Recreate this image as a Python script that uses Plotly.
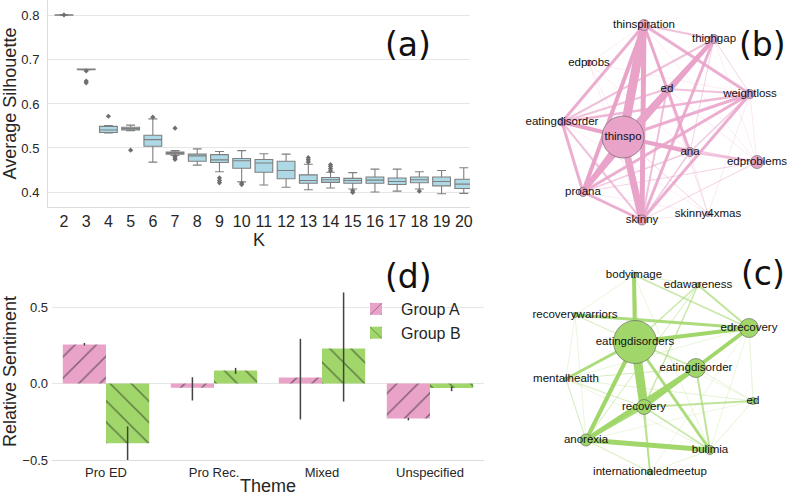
import plotly.graph_objects as go

# ---------------- data ----------------
# (a) silhouette box statistics per K
K = [str(k) for k in range(2, 21)]
q1 =     [0.8015, 0.6775, 0.535, 0.541, 0.504, 0.486, 0.470, 0.467, 0.454, 0.445, 0.430, 0.420, 0.422, 0.420, 0.420, 0.417, 0.421, 0.414, 0.408]
median = [0.802, 0.678, 0.541, 0.544, 0.519, 0.488, 0.482, 0.473, 0.471, 0.466, 0.449, 0.426, 0.428, 0.426, 0.427, 0.424, 0.428, 0.424, 0.418]
q3 =     [0.8025, 0.679, 0.549, 0.547, 0.529, 0.491, 0.486, 0.485, 0.476, 0.474, 0.470, 0.439, 0.433, 0.431, 0.434, 0.432, 0.434, 0.434, 0.429]
lowf =   [0.801, 0.677, 0.534, 0.539, 0.468, 0.483, 0.461, 0.446, 0.423, 0.416, 0.411, 0.405, 0.409, 0.407, 0.400, 0.402, 0.407, 0.396, 0.397]
upf =    [0.803, 0.679, 0.551, 0.552, 0.566, 0.494, 0.498, 0.492, 0.494, 0.487, 0.486, 0.463, 0.445, 0.444, 0.452, 0.452, 0.446, 0.449, 0.455]
outlier_k = ["2", "3", "3", "3", "4", "5", "6", "7", "7", "7", "7", "9", "9", "9", "10", "10",
             "13", "13", "13", "14", "14", "14", "14", "15", "15", "18"]
outlier_v = [0.802, 0.675, 0.652, 0.648, 0.572, 0.495, 0.570, 0.545, 0.480, 0.477, 0.474, 0.432, 0.426, 0.421, 0.420, 0.417,
             0.478, 0.473, 0.468, 0.462, 0.458, 0.453, 0.448, 0.403, 0.399, 0.402]

# (d) relative sentiment
themes = ["Pro ED", "Pro Rec.", "Mixed", "Unspecified"]
grpA = [0.255, -0.028, 0.039, -0.229]
grpA_up = [0.010, 0.069, 0.253, 0.005]
grpA_dn = [0.006, 0.083, 0.274, 0.012]
grpB = [-0.390, 0.085, 0.229, -0.030]
grpB_up = [0.110, 0.017, 0.366, 0.010]
grpB_dn = [0.130, 0.022, 0.347, 0.020]
sent_ticks = [-0.5, 0.0, 0.5]
sent_ticktext = ["\u22120.5", "0.0", "0.5"]

# (b) network of group A hashtags (layout coordinates)
b_nodes = ["thinspiration", "thighgap", "edprobs", "ed", "weightloss", "eatingdisorder",
           "thinspo", "ana", "edproblems", "proana", "skinny", "skinny4xmas"]
b_x = [104, 174, 49, 127, 210, 22, 83, 150, 217, 43, 102, 168]
b_y = [225, 211, 187, 161, 156, 128, 113, 98, 88, 58, 30, 36]
b_size = [11, 9, 6, 7, 9, 8, 42, 9, 13, 9, 10, 5]
b_edges = [
    ("thinspo", "thinspiration", 9), ("thinspo", "skinny", 7), ("thinspiration", "skinny", 5),
    ("thinspo", "proana", 5), ("thinspo", "eatingdisorder", 4), ("thinspo", "thighgap", 4),
    ("thinspo", "weightloss", 3), ("thinspo", "ana", 4), ("thinspo", "ed", 3),
    ("thinspo", "edproblems", 1.5), ("thinspo", "edprobs", 0.5), ("thinspo", "skinny4xmas", 1),
    ("thinspiration", "proana", 4), ("thinspiration", "eatingdisorder", 3), ("thinspiration", "weightloss", 3),
    ("thinspiration", "thighgap", 2), ("thinspiration", "ana", 3), ("thinspiration", "ed", 2),
    ("thinspiration", "edproblems", 0.5), ("thinspiration", "edprobs", 0.5), ("thinspiration", "skinny4xmas", 0.6),
    ("thighgap", "proana", 4), ("thighgap", "skinny", 3), ("thighgap", "eatingdisorder", 2),
    ("thighgap", "ed", 2), ("thighgap", "weightloss", 1), ("thighgap", "ana", 1), ("thighgap", "edproblems", 0.5),
    ("weightloss", "skinny", 3), ("weightloss", "proana", 3), ("weightloss", "eatingdisorder", 2.5),
    ("weightloss", "ed", 2), ("weightloss", "ana", 1.5), ("weightloss", "edproblems", 0.6),
    ("weightloss", "skinny4xmas", 0.6), ("weightloss", "edprobs", 0.5),
    ("ed", "proana", 3), ("ed", "skinny", 2), ("ed", "eatingdisorder", 2), ("ed", "ana", 1),
    ("eatingdisorder", "proana", 3), ("eatingdisorder", "skinny", 2), ("eatingdisorder", "ana", 1),
    ("eatingdisorder", "skinny4xmas", 0.5), ("proana", "skinny", 3), ("proana", "ana", 1.5),
    ("proana", "edproblems", 1), ("proana", "skinny4xmas", 0.5), ("ana", "edproblems", 2),
    ("ana", "skinny", 1.5), ("ana", "skinny4xmas", 0.6), ("skinny", "edproblems", 1),
    ("skinny", "skinny4xmas", 0.6), ("edprobs", "ana", 0.5), ("edprobs", "skinny", 0.5),
    ("ed", "skinny4xmas", 0.5), ("ed", "edproblems", 0.6),
]

# (c) network of group B hashtags (layout coordinates)
c_nodes = ["bodyimage", "edawareness", "recoverywarriors", "edrecovery", "eatingdisorders", "eatingdisorder",
           "mentalhealth", "ed", "recovery", "anorexia", "bulimia", "internationaledmeetup"]
c_x = [94, 158, 35, 209, 95, 156, 26, 213, 104, 46, 170, 110]
c_y = [225, 215, 185, 172, 158, 132, 121, 99, 93, 60, 50, 28]
c_size = [6, 5, 5, 19, 43, 19, 4, 7, 15, 12, 9, 6]
c_edges = [
    ("eatingdisorders", "recovery", 9), ("eatingdisorders", "anorexia", 4), ("eatingdisorders", "bodyimage", 4),
    ("eatingdisorders", "edrecovery", 4), ("recoverywarriors", "edrecovery", 3), ("eatingdisorders", "mentalhealth", 3),
    ("eatingdisorders", "bulimia", 3), ("eatingdisorders", "eatingdisorder", 1.5), ("eatingdisorders", "recoverywarriors", 1),
    ("eatingdisorders", "edawareness", 1.5), ("eatingdisorders", "ed", 0.5), ("eatingdisorders", "internationaledmeetup", 1),
    ("anorexia", "eatingdisorder", 5), ("recovery", "edrecovery", 4), ("recovery", "eatingdisorder", 3),
    ("anorexia", "bulimia", 5), ("anorexia", "recovery", 3), ("anorexia", "mentalhealth", 1),
    ("recovery", "ed", 2), ("recovery", "internationaledmeetup", 2), ("recovery", "bulimia", 1.5),
    ("recovery", "bodyimage", 1), ("eatingdisorder", "bulimia", 2), ("edrecovery", "edawareness", 2),
    ("edrecovery", "bodyimage", 1.5), ("edrecovery", "ed", 0.7), ("bodyimage", "edawareness", 0.8),
    ("edawareness", "recovery", 1.5), ("edawareness", "anorexia", 1), ("mentalhealth", "bulimia", 0.6),
    ("anorexia", "internationaledmeetup", 1), ("mentalhealth", "eatingdisorder", 1), ("mentalhealth", "recovery", 1),
    ("ed", "eatingdisorder", 0.7), ("ed", "bulimia", 0.7), ("bulimia", "internationaledmeetup", 0.7),
    ("mentalhealth", "ed", 0.7), ("recoverywarriors", "mentalhealth", 0.6), ("recoverywarriors", "anorexia", 0.6),
    ("bodyimage", "recoverywarriors", 0.6), ("bodyimage", "bulimia", 0.6), ("edrecovery", "bulimia", 0.6),
    ("mentalhealth", "edrecovery", 0.6), ("anorexia", "ed", 0.5), ("internationaledmeetup", "edrecovery", 0.5),
]

# ---------------- style ----------------
PINK = "#e9a3c9"
GREEN = "#a1d76a"
PINK_RGB = (233, 163, 201)
GREEN_RGB = (161, 215, 106)
GRID = "#e6e6e6"
TXT = "#262626"
FONT = "Liberation Sans, Arial, sans-serif"

fig = go.Figure()

# ---- (a) box plot ----
fig.add_trace(go.Box(
    x=K, q1=q1, median=median, q3=q3, lowerfence=lowf, upperfence=upf,
    fillcolor="#add8e6", line=dict(color="#7f7f7f", width=1.1), width=0.8, whiskerwidth=0.5,
    boxpoints=False, showlegend=False, hoverinfo="skip", xaxis="x", yaxis="y"))
fig.add_trace(go.Scatter(
    x=outlier_k, y=outlier_v, mode="markers",
    marker=dict(symbol="diamond", size=4, color="#6f6f6f"),
    showlegend=False, hoverinfo="skip", xaxis="x", yaxis="y"))

# ---- (d) bars ----
fig.add_trace(go.Bar(
    x=themes, y=grpA, name="Group A", xaxis="x2", yaxis="y2",
    marker=dict(color=PINK, line=dict(width=0),
                pattern=dict(shape="/", fgcolor="#1a1a1a", size=15, solidity=0.1, fillmode="overlay")),
    error_y=dict(type="data", array=grpA_up, arrayminus=grpA_dn, color="#424242", thickness=1.5, width=0)))
fig.add_trace(go.Bar(
    x=themes, y=grpB, name="Group B", xaxis="x2", yaxis="y2",
    marker=dict(color=GREEN, line=dict(width=0),
                pattern=dict(shape="\\", fgcolor="#1a1a1a", size=15, solidity=0.1, fillmode="overlay")),
    error_y=dict(type="data", array=grpB_up, arrayminus=grpB_dn, color="#424242", thickness=1.5, width=0)))


# ---- networks ----
def add_network(nodes, xs, ys, sizes, edges, rgb, color, xa, ya):
    idx = {n: i for i, n in enumerate(nodes)}
    for a, b, w in edges:
        i, j = idx[a], idx[b]
        alpha = min(1.0, 0.28 + 0.2 * w)
        fig.add_trace(go.Scatter(
            x=[xs[i], xs[j]], y=[ys[i], ys[j]], mode="lines",
            line=dict(color="rgba(%d,%d,%d,%.2f)" % (rgb + (alpha,)), width=w),
            showlegend=False, hoverinfo="skip", xaxis=xa, yaxis=ya))
    fig.add_trace(go.Scatter(
        x=xs, y=ys, mode="markers+text", text=nodes, textposition="middle center",
        textfont=dict(family=FONT, size=11.5, color="#111111"),
        marker=dict(size=sizes, color=color, opacity=1, line=dict(color="#5a5a5a", width=0.6)),
        showlegend=False, hoverinfo="skip", cliponaxis=False, xaxis=xa, yaxis=ya))


add_network(b_nodes, b_x, b_y, b_size, b_edges, PINK_RGB, PINK, "x3", "y3")
add_network(c_nodes, c_x, c_y, c_size, c_edges, GREEN_RGB, GREEN, "x4", "y4")

W, H = 790, 496


def px_x(a, b):
    return [a / W, b / W]


def px_y(top, bottom):
    return [1 - bottom / H, 1 - top / H]


fig.update_layout(
    width=W, height=H, margin=dict(l=0, r=0, t=0, b=0, autoexpand=False),
    paper_bgcolor="white", plot_bgcolor="white",
    font=dict(family=FONT, color=TXT),
    barmode="group", bargap=0.2, bargroupgap=0.0,
    showlegend=True,
    legend=dict(x=351 / W, y=1 - 292 / H, xanchor="left", yanchor="top",
                bgcolor="rgba(0,0,0,0)", font=dict(size=16, color=TXT), tracegroupgap=0,
                itemwidth=40),
    xaxis=dict(domain=px_x(48, 470), type="category", range=[-0.72, 18.28], automargin=False,
               showgrid=False, showline=True, linecolor="#dcdcdc", linewidth=1, ticks="",
               tickfont=dict(size=16, color=TXT), zeroline=False,
               title=dict(text="K", font=dict(size=18, color=TXT), standoff=4)),
    yaxis=dict(domain=px_y(0, 207), range=[0.366, 0.836], tickvals=[0.4, 0.5, 0.6, 0.7, 0.8],
               tickformat=".1f", showgrid=True, gridcolor=GRID, gridwidth=1, automargin=False,
               showline=True, linecolor="#dcdcdc", linewidth=1, zeroline=False, ticks="",
               ticklabelstandoff=5, tickfont=dict(size=13, color=TXT),
               title=dict(text="Average Silhouette", font=dict(size=18, color=TXT), standoff=3)),
    xaxis2=dict(domain=px_x(52, 484), anchor="y2", range=[-0.5, 3.5], showgrid=False, automargin=False,
                showline=True, linecolor="#dcdcdc", linewidth=1, ticks="", zeroline=False,
                tickfont=dict(size=13, color=TXT),
                title=dict(text="Theme", font=dict(size=18, color=TXT), standoff=0)),
    yaxis2=dict(domain=px_y(283, 460), anchor="x2", range=[-0.5, 0.657], automargin=False,
                tickvals=sent_ticks, ticktext=sent_ticktext,
                showgrid=True, gridcolor=GRID, zeroline=False, showline=False, ticks="",
                ticklabelstandoff=3, tickfont=dict(size=13, color=TXT),
                title=dict(text="Relative Sentiment", font=dict(size=18, color=TXT), standoff=4)),
    xaxis3=dict(domain=px_x(540, 790), anchor="y3", range=[0, 250], visible=False, automargin=False),
    yaxis3=dict(domain=px_y(0, 250), anchor="x3", range=[0, 250], visible=False, automargin=False),
    xaxis4=dict(domain=px_x(540, 790), anchor="y4", range=[0, 250], visible=False, automargin=False),
    yaxis4=dict(domain=px_y(250, 496), anchor="x4", range=[4, 250], visible=False, automargin=False),
)

panel_labels = [("(a)", 408, 45), ("(b)", 762, 44), ("(c)", 763, 273), ("(d)", 408, 276)]
for txt, cx, cy in panel_labels:
    fig.add_annotation(text=txt, x=cx / W, y=1 - cy / H, xref="paper", yref="paper",
                       xanchor="center", yanchor="middle", showarrow=False,
                       font=dict(family="DejaVu Sans", size=33, color="#111111"))

fig.write_html("out.html", config={"displayModeBar": False},
               post_script="document.body.style.margin='0';document.body.style.overflow='hidden';")
